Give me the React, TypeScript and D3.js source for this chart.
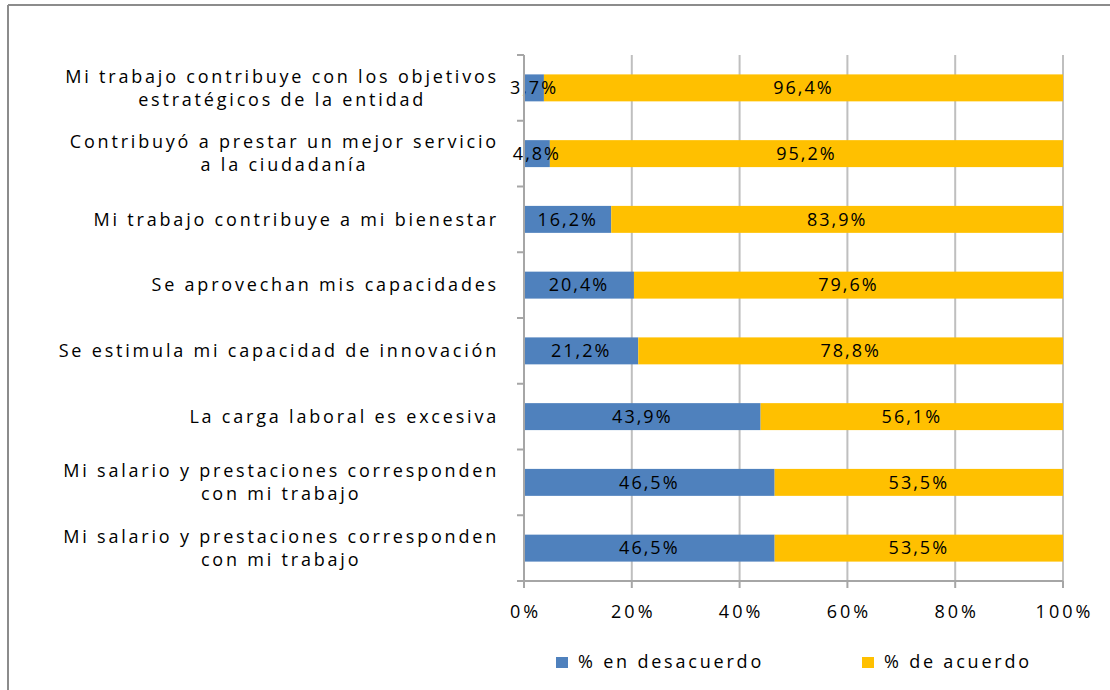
import React, { useEffect, useRef } from "react";
import * as d3 from "d3";

const categories = [
  ["Mi trabajo contribuye con los objetivos", "estratégicos de la entidad"],
  ["Contribuyó a prestar un mejor servicio", "a la ciudadanía"],
  ["Mi trabajo contribuye a mi bienestar"],
  ["Se aprovechan mis capacidades"],
  ["Se estimula mi capacidad de innovación"],
  ["La carga laboral es excesiva"],
  ["Mi salario y prestaciones corresponden", "con mi trabajo"],
  ["Mi salario y prestaciones corresponden", "con mi trabajo"],
];
const desacuerdo = [3.7, 4.8, 16.2, 20.4, 21.2, 43.9, 46.5, 46.5];
const acuerdo = [96.4, 95.2, 83.9, 79.6, 78.8, 56.1, 53.5, 53.5];
const seriesNames = ["% en desacuerdo", "% de acuerdo"];
const xTicks = [0, 20, 40, 60, 80, 100];

const BLUE = "#4F81BD";
const YELLOW = "#FFC000";
const FONT = "'Open Sans', sans-serif";

const fmt = (v: number) => v.toFixed(1).replace(".", ",") + "%";

export default function App() {
  const ref = useRef<SVGSVGElement>(null);

  useEffect(() => {
    const svg = d3.select(ref.current);
    svg.selectAll("*").remove();

    const left = 524;
    const right = 1063;
    const top = 55;
    const bottom = 581;

    // tipografía común (antes de medir textos)
    svg
      .attr("font-family", FONT)
      .attr("font-size", 18)
      .attr("letter-spacing", 2.8)
      .attr("fill", "#000");

    // marco del gráfico
    svg.append("line").attr("x1", 8).attr("y1", 5).attr("x2", 1110).attr("y2", 5)
      .attr("stroke", "#8c8c8c").attr("stroke-width", 2);
    svg.append("line").attr("x1", 8).attr("y1", 5).attr("x2", 8).attr("y2", 690)
      .attr("stroke", "#8c8c8c").attr("stroke-width", 2);

    const x = d3.scaleLinear().domain([0, 100]).range([left, right]);
    const y = d3.scaleBand<number>()
      .domain(d3.range(categories.length))
      .range([top, bottom])
      .paddingInner(0.59)
      .paddingOuter(0.295);
    const yOuter = d3.scaleBand<number>().domain(d3.range(categories.length)).range([top, bottom]);

    // rejilla vertical
    svg.append("g").selectAll("line").data(xTicks.slice(1)).enter().append("line")
      .attr("x1", (d) => x(d)).attr("x2", (d) => x(d))
      .attr("y1", top).attr("y2", bottom)
      .attr("stroke", "#bfbfbf").attr("stroke-width", 2);

    // barras apiladas al 100%
    const rows = categories.map((_, i) => {
      const tot = desacuerdo[i] + acuerdo[i];
      return { i, a: (desacuerdo[i] / tot) * 100, b: (acuerdo[i] / tot) * 100 };
    });
    const g = svg.append("g").attr("letter-spacing", 2);
    rows.forEach((r) => {
      const yy = y(r.i)!;
      g.append("rect").attr("x", x(0)).attr("y", yy).attr("width", x(r.a) - x(0))
        .attr("height", y.bandwidth()).attr("fill", BLUE);
      g.append("rect").attr("x", x(r.a)).attr("y", yy).attr("width", x(100) - x(r.a))
        .attr("height", y.bandwidth()).attr("fill", YELLOW);
      const cy = yy + y.bandwidth() / 2;
      g.append("text").attr("x", (x(0) + x(r.a)) / 2).attr("y", cy).attr("dy", "0.35em")
        .attr("text-anchor", "middle").text(fmt(desacuerdo[r.i]));
      g.append("text").attr("x", (x(r.a) + x(100)) / 2).attr("y", cy).attr("dy", "0.35em")
        .attr("text-anchor", "middle").text(fmt(acuerdo[r.i]));
    });

    // ejes
    const axisColor = "#a6a6a6";
    svg.append("line").attr("x1", left).attr("x2", left).attr("y1", top).attr("y2", bottom)
      .attr("stroke", axisColor).attr("stroke-width", 2);
    svg.append("line").attr("x1", left - 7).attr("x2", right).attr("y1", bottom).attr("y2", bottom)
      .attr("stroke", axisColor).attr("stroke-width", 2);
    const bounds = d3.range(categories.length).map((i) => yOuter(i)!);
    svg.append("g").selectAll("line").data(bounds).enter().append("line")
      .attr("x1", left - 7).attr("x2", left).attr("y1", (d) => d).attr("y2", (d) => d)
      .attr("stroke", axisColor).attr("stroke-width", 2);
    svg.append("g").selectAll("line").data(xTicks).enter().append("line")
      .attr("x1", (d) => x(d)).attr("x2", (d) => x(d)).attr("y1", bottom).attr("y2", bottom + 7)
      .attr("stroke", axisColor).attr("stroke-width", 2);

    svg.append("g").attr("letter-spacing", 3).selectAll("text").data(xTicks).enter().append("text")
      .attr("x", (d) => x(d) + 1.5).attr("y", 612).attr("dy", "0.35em")
      .attr("text-anchor", "middle").text((d) => `${d}%`);

    // etiquetas de categoría: bloque alineado a la derecha, líneas centradas
    const labelRight = 499;
    const lineH = 23;
    categories.forEach((lines, i) => {
      const cy = yOuter(i)! + yOuter.bandwidth() / 2;
      const grp = svg.append("g");
      const texts = lines.map((l, j) =>
        grp.append("text")
          .attr("y", cy + (j - (lines.length - 1) / 2) * lineH)
          .attr("dy", "0.35em")
          .attr("text-anchor", "middle")
          .text(l)
      );
      const widths = texts.map((t) => (t.node() as SVGTextElement).getComputedTextLength());
      const maxW = d3.max(widths) || 0;
      texts.forEach((t) => t.attr("x", labelRight - maxW / 2));
    });

    // leyenda
    const legendX = [556, 862];
    const colors = [BLUE, YELLOW];
    seriesNames.forEach((n, i) => {
      svg.append("rect").attr("x", legendX[i]).attr("y", 657).attr("width", 12).attr("height", 11)
        .attr("fill", colors[i]);
      svg.append("text").attr("x", legendX[i] + 22).attr("y", 662).attr("dy", "0.35em").text(n);
    });
  }, []);

  return (
    <svg
      ref={ref}
      width={1110}
      height={690}
      style={{ position: "absolute", left: 0, top: 0, background: "#fff" }}
    />
  );
}
